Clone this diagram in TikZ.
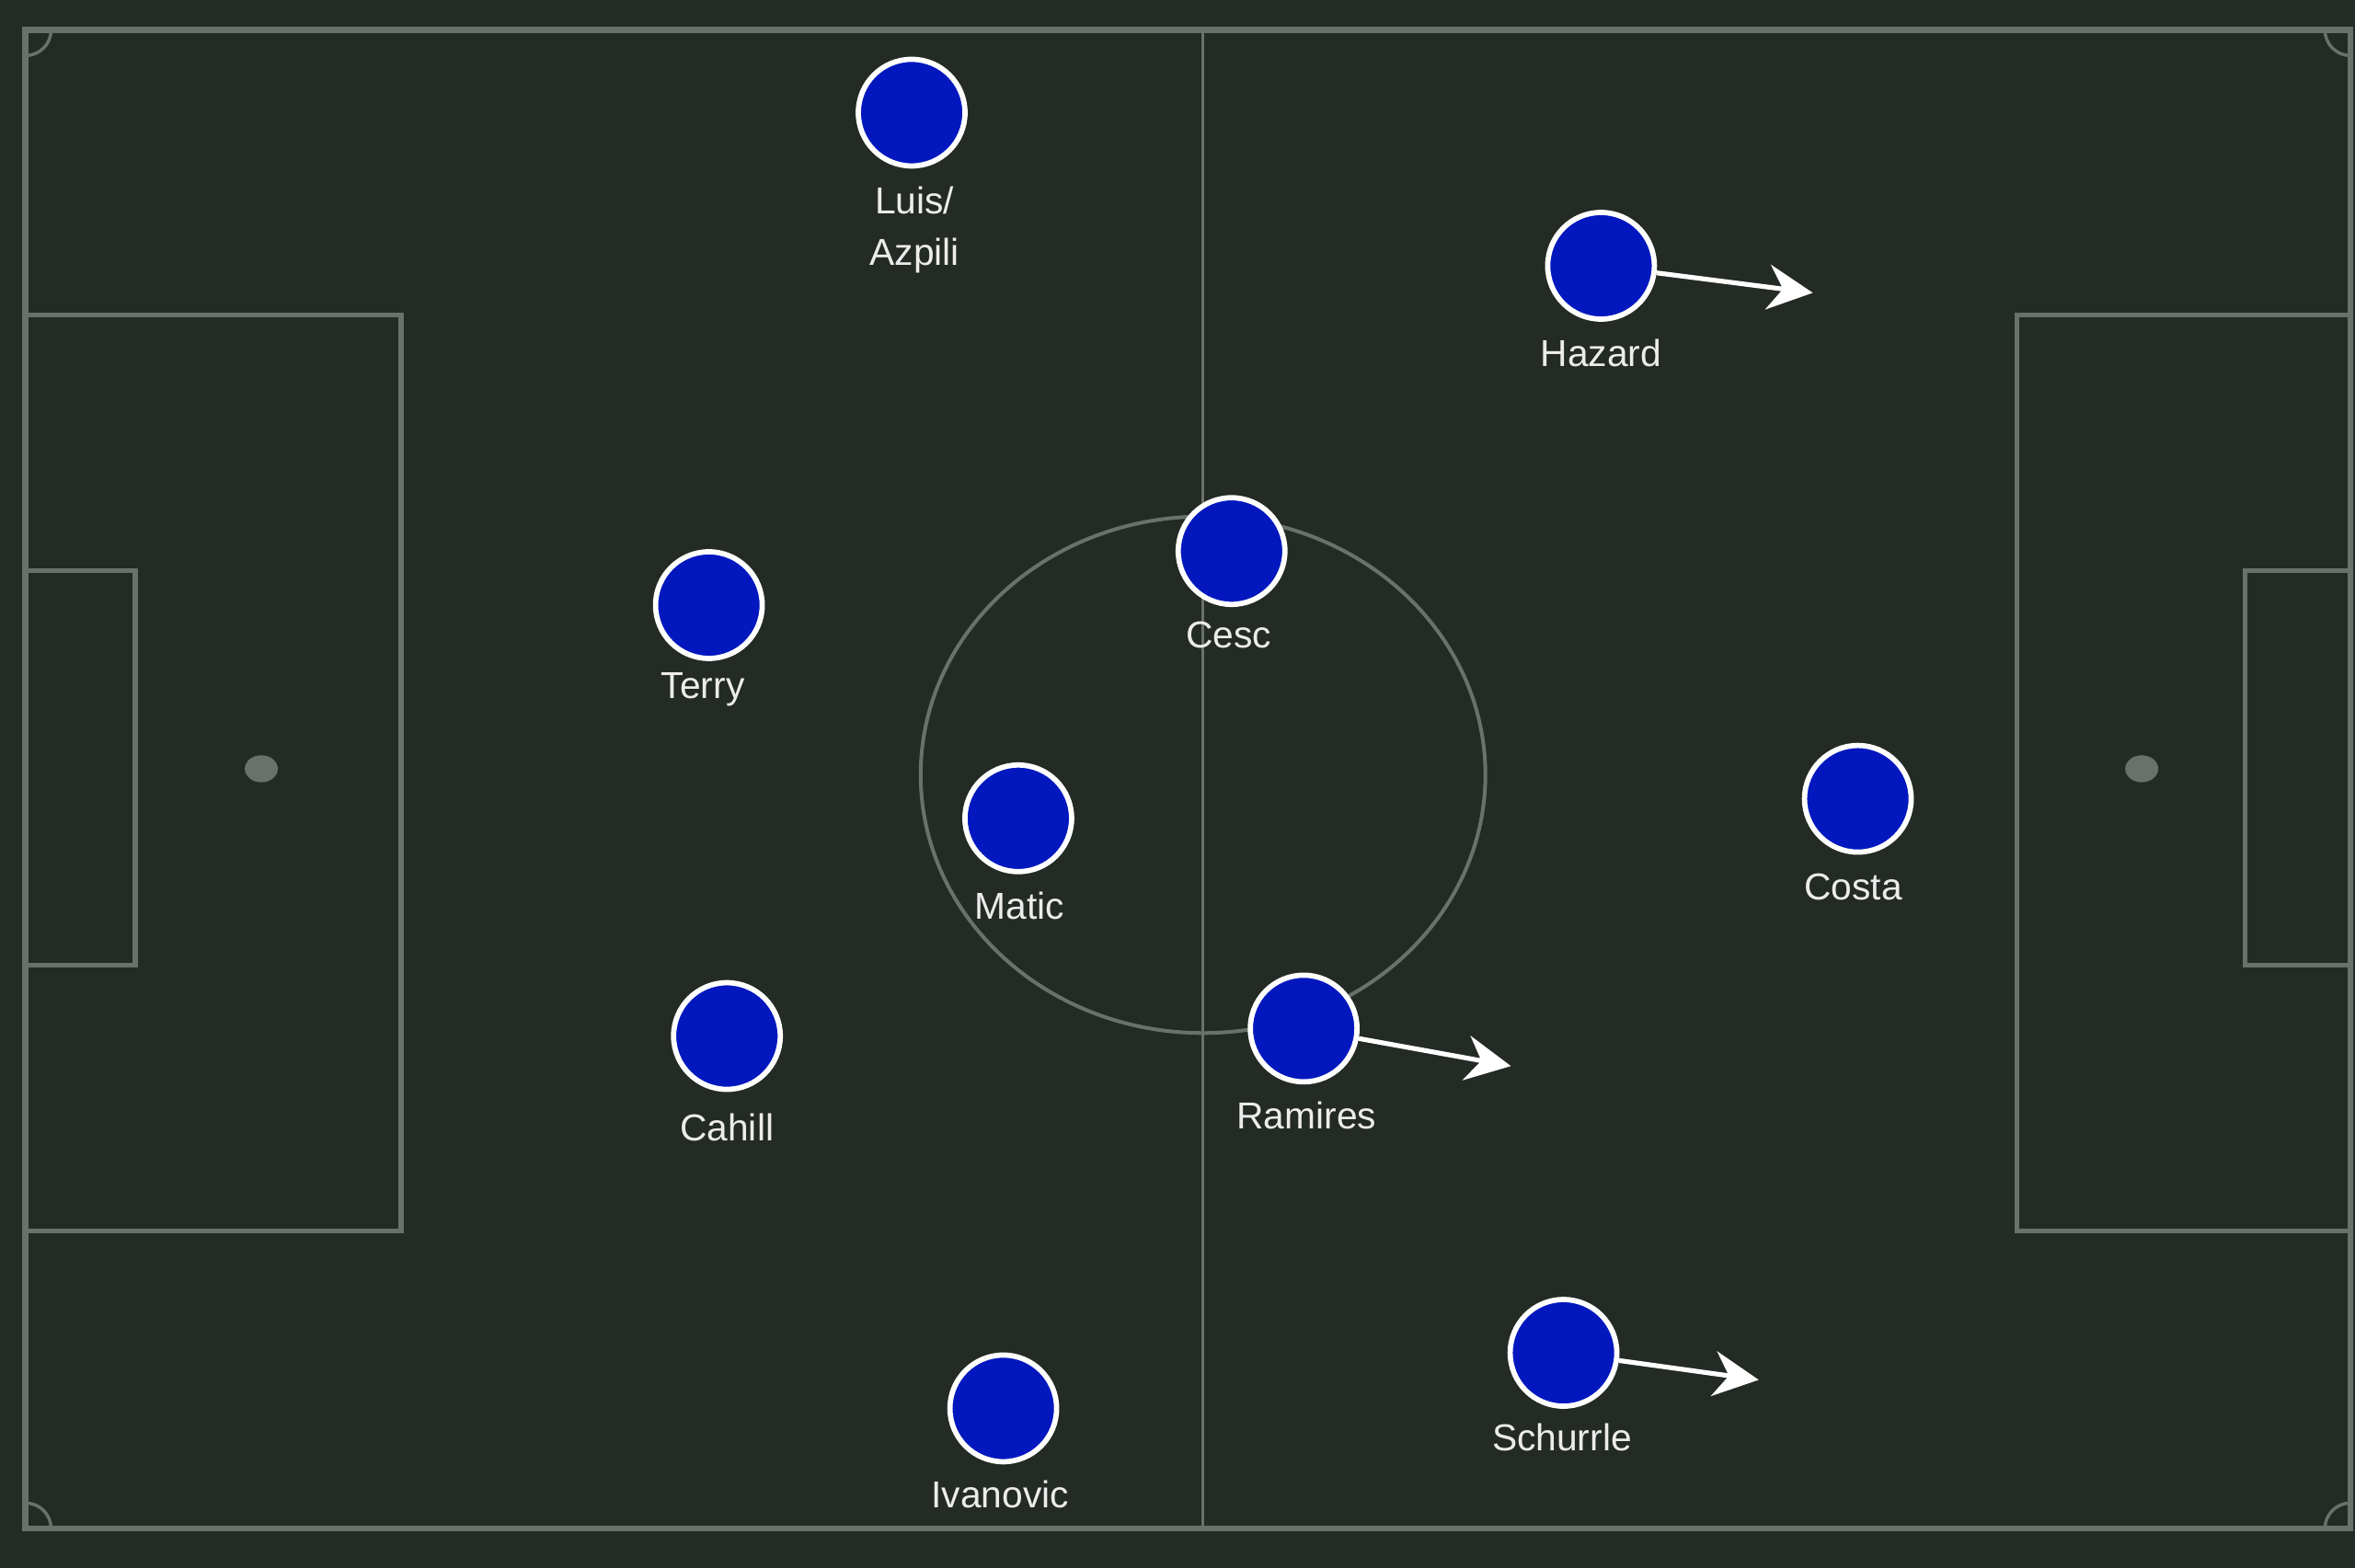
\documentclass[tikz,border=0pt]{standalone}
\usepackage{fontspec}
\setmainfont{Liberation Sans}
\usetikzlibrary{arrows.meta}
\definecolor{pitchbg}{RGB}{36,42,36}
\definecolor{pitchline}{RGB}{106,112,106}
\definecolor{shirt}{RGB}{2,24,190}
\definecolor{lbltxt}{RGB}{236,236,236}
\tikzset{
  outerline/.style={draw=pitchline,line width=1.15pt},
  boxline/.style={draw=pitchline,line width=0.9pt},
  thinline/.style={draw=pitchline,line width=0.6pt},
  player/.style={circle,fill=shirt,draw=white,line width=1pt,minimum size=0.71cm,inner sep=0pt},
  lbl/.style={text=lbltxt,font=\fontsize{7.1}{9.7}\selectfont,align=center,inner sep=0pt},
  mv/.style={draw=white,line width=0.9pt,-{Stealth[length=0.3cm,width=0.3cm,inset=0.1cm]}},
}
\begin{document}
\begin{tikzpicture}[x=0.01cm,y=-0.01cm]
\fill[pitchbg] (0,0) rectangle (1568,1044);
\useasboundingbox (0,0) rectangle (1568,1044);
% pitch markings
\draw[outerline] (17,20) rectangle (1565,1018);
\draw[thinline] (801,20) -- (801,1018);
\draw[thinline,line width=0.7pt] (801,516) ellipse[x radius=188,y radius=172];
\draw[boxline] (17,210) rectangle (267,820);
\draw[boxline] (17,380) rectangle (90,643);
\draw[boxline] (1565,210) rectangle (1343,820);
\draw[boxline] (1565,380) rectangle (1495,643);
\fill[pitchline] (174,512) ellipse[x radius=11,y radius=9];
\fill[pitchline] (1426,512) ellipse[x radius=11,y radius=9];
\begin{scope}
\clip (17,20) rectangle (1565,1018);
\draw[thinline] (17,20) circle[radius=17];
\draw[thinline] (1565,20) circle[radius=17];
\draw[thinline] (17,1018) circle[radius=17];
\draw[thinline] (1565,1018) circle[radius=17];
\end{scope}
% movement targets
\coordinate (hazardT) at (1207,195);
\coordinate (ramiresT) at (1006,710);
\coordinate (schurrleT) at (1171,919);
% players
\node[player] (luis) at (607,75) {};
\node[player] (hazard) at (1066,177) {};
\node[player] (cesc) at (820,367) {};
\node[player] (terry) at (472,403) {};
\node[player] (matic) at (678,545) {};
\node[player] (costa) at (1237,532) {};
\node[player] (cahill) at (484,690) {};
\node[player] (ramires) at (868,685) {};
\node[player] (schurrle) at (1041,901) {};
\node[player] (ivanovic) at (668,938) {};
% labels
\node[lbl] (luisL) at (609,153) {Luis/\\Azpili};
\node[lbl] (hazardL) at (1066,235) {Hazard};
\node[lbl] (cescL) at (818,423) {Cesc};
\node[lbl] (terryL) at (468,459) {Terry};
\node[lbl] (maticL) at (679,603) {Matic};
\node[lbl] (costaL) at (1234,591) {Costa};
\node[lbl] (cahillL) at (484,751) {Cahill};
\node[lbl] (ramiresL) at (870,743) {Ramires};
\node[lbl] (schurrleL) at (1040,957) {Schurrle};
\node[lbl] (ivanovicL) at (666,995) {Ivanovic};
% arrows
\draw[mv] (hazard) -- (hazardT);
\draw[mv] (ramires) -- (ramiresT);
\draw[mv] (schurrle) -- (schurrleT);
\end{tikzpicture}
\end{document}
